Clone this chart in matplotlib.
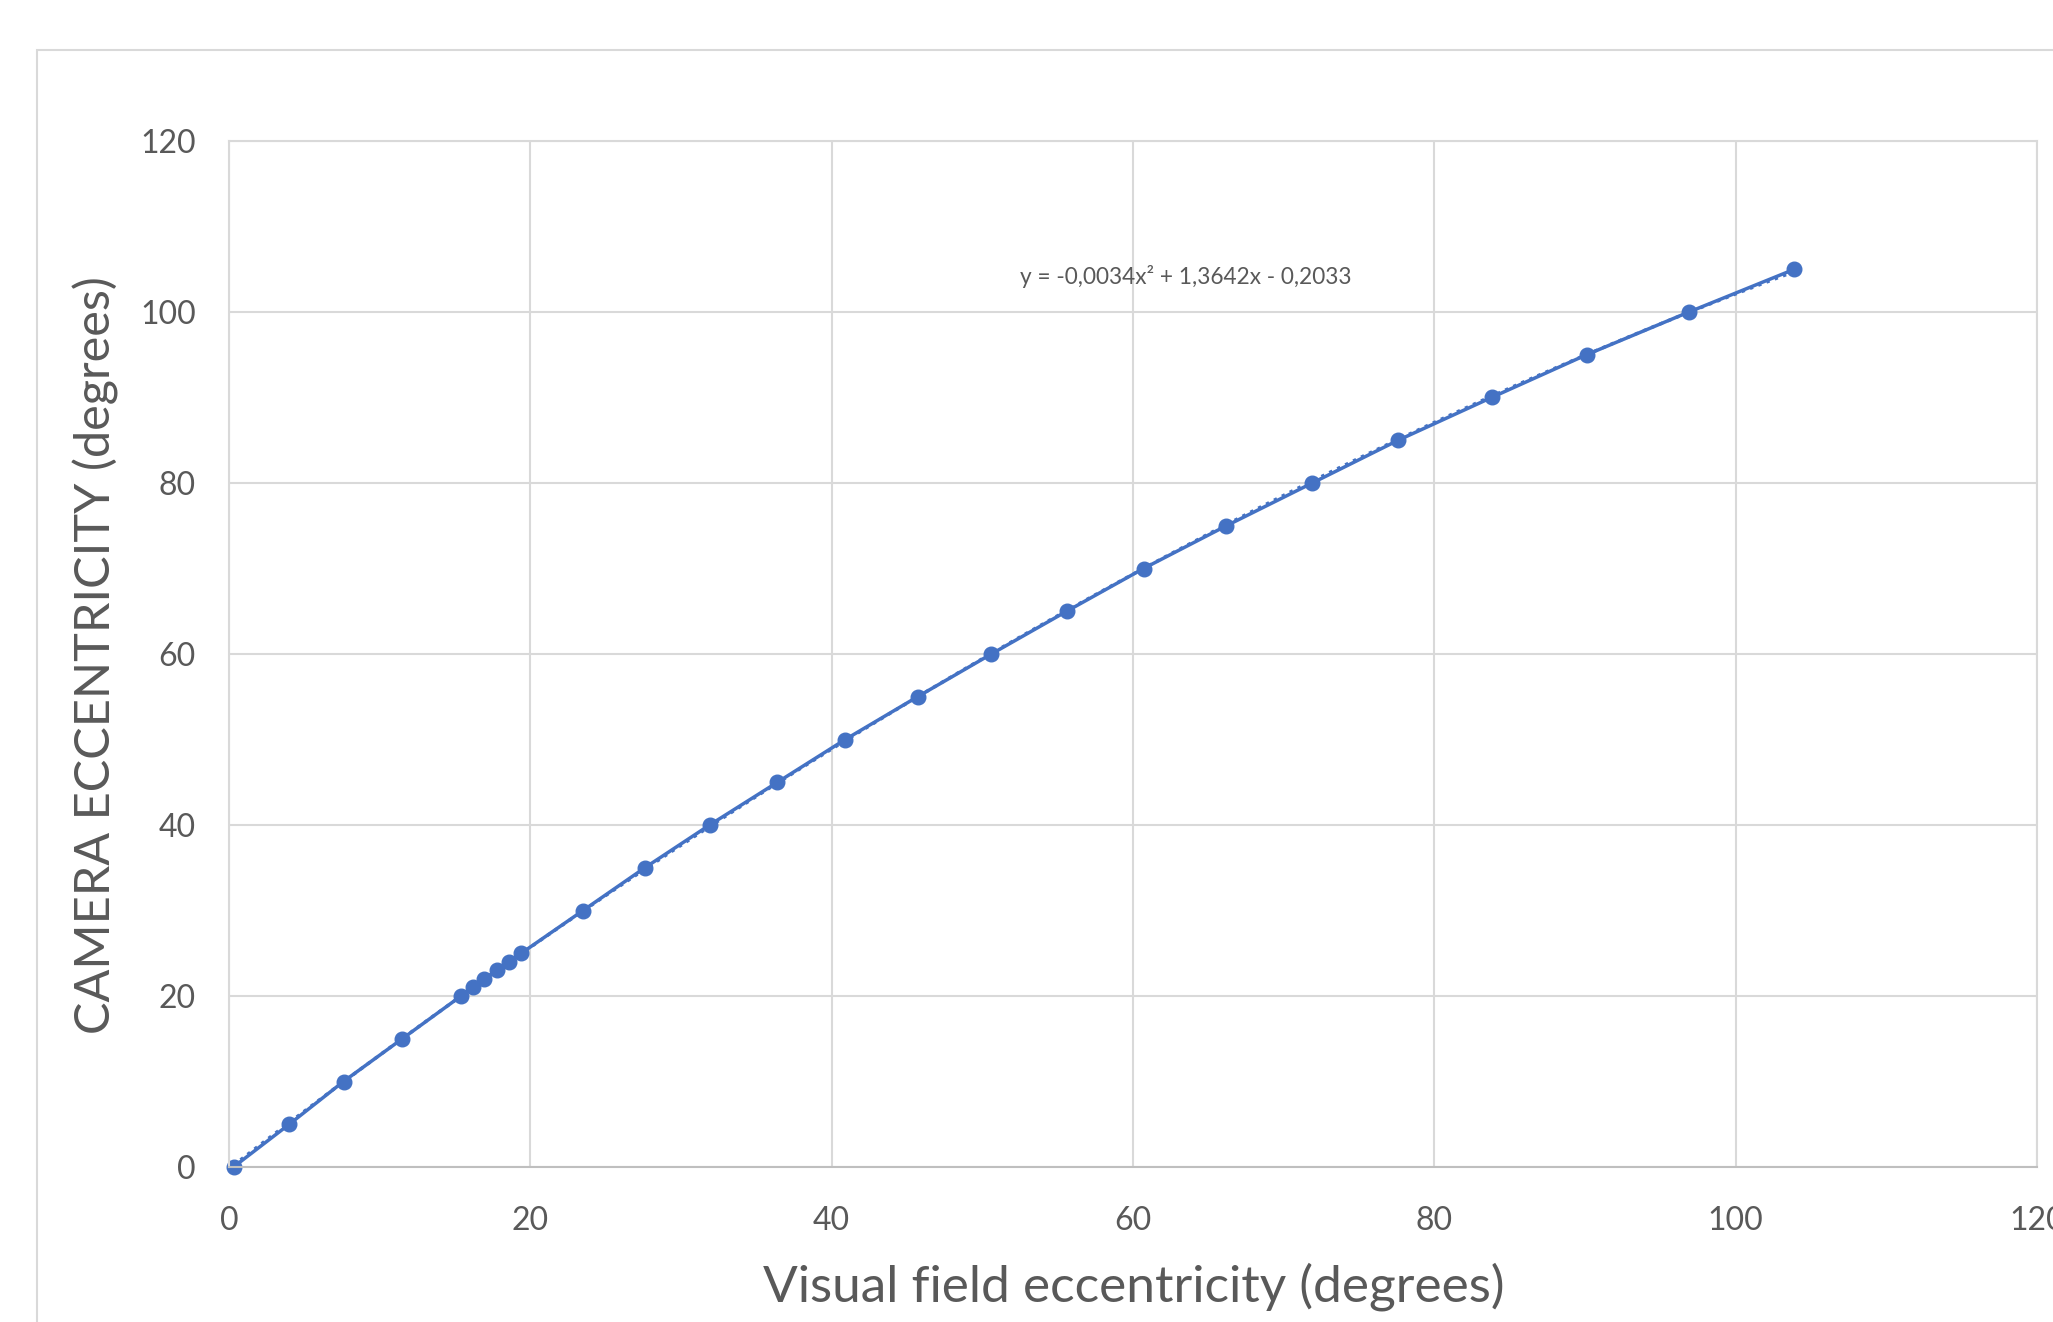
import matplotlib
matplotlib.use("Agg")
import matplotlib.pyplot as plt
from matplotlib.patches import Rectangle
import numpy as np

plt.rcParams['font.family'] = ['Lato', 'DejaVu Sans']

# visual field eccentricity vs camera eccentricity (degrees)
visual_ecc = [0.3, 4.0, 7.6, 11.5, 15.4, 16.2, 16.9, 17.8, 18.6, 19.4,
              23.5, 27.6, 31.9, 36.4, 40.9, 45.7, 50.6, 55.6, 60.7, 66.2,
              71.9, 77.6, 83.8, 90.1, 96.9, 103.9]
camera_ecc = [0, 5, 10, 15, 20, 21, 22, 23, 24, 25,
              30, 35, 40, 45, 50, 55, 60, 65, 70, 75,
              80, 85, 90, 95, 100, 105]
x_ticks = [0, 20, 40, 60, 80, 100, 120]
y_ticks = [0, 20, 40, 60, 80, 100, 120]
equation = "y = -0,0034x² + 1,3642x - 0,2033"

blue = "#4472C4"
grid_c = "#D9D9D9"
text_c = "#595959"

fig = plt.figure(figsize=(20.53, 13.22), dpi=100)
# outer chart frame (runs off the right/bottom edge)
fig.patches.append(Rectangle((37 / 2053, -0.1), 1.2, 1 - 50 / 1322 + 0.1,
                             transform=fig.transFigure, fill=False,
                             edgecolor=grid_c, linewidth=1.5))

ax = fig.add_axes([229 / 2053, 1 - 1167 / 1322, (2037 - 229) / 2053, (1167 - 141) / 1322])
ax.set_xlim(0, 120)
ax.set_ylim(0, 120)
ax.set_xticks(x_ticks)
ax.set_yticks(y_ticks)
ax.grid(True, color=grid_c, linewidth=1.5)
ax.set_axisbelow(True)
for s in ax.spines.values():
    s.set_color(grid_c)
    s.set_linewidth(1.5)
ax.spines['bottom'].set_color("#BFBFBF")
ax.tick_params(length=0, labelsize=23, labelcolor=text_c)
ax.tick_params(axis='x', pad=28)
ax.tick_params(axis='y', pad=24)

# polynomial trendline (order 2), dotted
coef = np.polyfit(visual_ecc, camera_ecc, 2)
xs = np.linspace(min(visual_ecc), max(visual_ecc), 200)
ax.plot(xs, np.polyval(coef, xs), color=blue, linestyle=':', linewidth=2.4)

ax.plot(visual_ecc, camera_ecc, color=blue, linewidth=2.5, marker='o',
        markersize=10.5, clip_on=False)

ax.text(63.5, 104.1, equation, fontsize=16.3, color=text_c, ha='center', va='center')

fig.text(1134 / 2053, 1 - 1287 / 1322, "Visual field eccentricity (degrees)",
         fontsize=37, color=text_c, ha='center', va='center')
fig.text(96 / 2053, 1 - 655 / 1322, "CAMERA ECCENTRICITY (degrees)",
         fontsize=35, color=text_c, ha='center', va='center', rotation=90)

fig.savefig("out.png", dpi=100)
